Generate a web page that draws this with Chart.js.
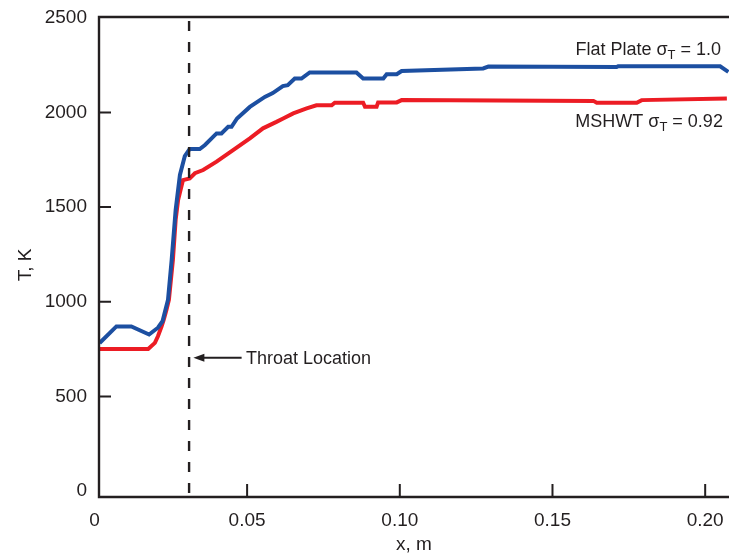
<!DOCTYPE html>
<html>
<head>
<meta charset="utf-8">
<script src="https://cdn.jsdelivr.net/npm/chart.js@4.4.1/dist/chart.umd.min.js"></script>
<style>
  html, body { margin: 0; padding: 0; background: #fff; }
  #wrap { width: 729px; height: 557px; }
</style>
</head>
<body>
<div id="wrap"><canvas id="grafico" width="729" height="557"></canvas></div>
<script>
// Datos (x en m, T en K)
const flatPlateX = [0.0017, 0.0072, 0.0121, 0.0179, 0.0208, 0.0223, 0.0241, 0.0253, 0.0266, 0.0280, 0.0296,
  0.0312, 0.0345, 0.0362, 0.0400, 0.0416, 0.0438, 0.0449, 0.0467, 0.0509, 0.0558, 0.0584, 0.0617, 0.0633,
  0.0656, 0.0678, 0.0705, 0.0858, 0.0880, 0.0946, 0.0957, 0.0990, 0.1006, 0.1273, 0.1290, 0.1710, 0.1715,
  0.2049, 0.2076];
const flatPlateT = [782, 870, 870, 827, 863, 897, 1011, 1222, 1485, 1670, 1770,
  1807, 1807, 1828, 1889, 1889, 1924, 1924, 1968, 2029, 2082, 2102, 2139, 2144,
  2179, 2179, 2211, 2211, 2179, 2179, 2202, 2202, 2219, 2232, 2242, 2240, 2244,
  2244, 2214];

const mshwtX = [0.0017, 0.0176, 0.0198, 0.0208, 0.0220, 0.0227, 0.0236, 0.0244, 0.0257, 0.0266, 0.0274,
  0.0290, 0.0312, 0.0329, 0.0356, 0.0400, 0.0454, 0.0509, 0.0552, 0.0596, 0.0618, 0.0651, 0.0695,
  0.0727, 0.0777, 0.0787, 0.0880, 0.0886, 0.0924, 0.0929, 0.0990, 0.1006, 0.1634, 0.1645, 0.1776,
  0.1792, 0.2071];
const mshwtT = [751, 751, 783, 818, 870, 906, 958, 1011, 1222, 1433, 1538,
  1643, 1652, 1679, 1696, 1740, 1801, 1863, 1916, 1950, 1968, 1995, 2021,
  2038, 2038, 2051, 2051, 2030, 2030, 2053, 2053, 2065, 2061, 2051, 2051,
  2065, 2074];

const xTicks = [0, 0.05, 0.10, 0.15, 0.20];
const xTickLabels = ['0', '0.05', '0.10', '0.15', '0.20'];
const yTicks = [0, 500, 1000, 1500, 2000, 2500];

const throatX = 0.031;

const FUENTE = '"Liberation Sans", Arial, Helvetica, sans-serif';
const TINTA = '#231f20';

function puntos(xs, ys) {
  return xs.map((x, i) => ({ x: x, y: ys[i] }));
}

// texto con subindice (sigma_T) alineado a la derecha
function textoSigma(ctx, antes, despues, xDer, yBase) {
  const grande = '18px ' + FUENTE;
  const chico = '13px ' + FUENTE;
  ctx.font = grande;
  const w1 = ctx.measureText(antes).width;
  const w3 = ctx.measureText(despues).width;
  ctx.font = chico;
  const w2 = ctx.measureText('T').width;
  let x = xDer - (w1 + w2 + w3);
  ctx.textAlign = 'left';
  ctx.textBaseline = 'alphabetic';
  ctx.font = grande;
  ctx.fillText(antes, x, yBase);
  x += w1;
  ctx.font = chico;
  ctx.fillText('T', x, yBase + 4);
  x += w2;
  ctx.font = grande;
  ctx.fillText(despues, x, yBase);
}

const anotaciones = {
  id: 'anotaciones',
  afterDatasetsDraw(chart) {
    const ctx = chart.ctx;
    const a = chart.chartArea;
    const sx = chart.scales.x;
    const sy = chart.scales.y;
    ctx.save();

    // marco
    ctx.strokeStyle = TINTA;
    ctx.lineWidth = 2.4;
    ctx.beginPath();
    ctx.moveTo(a.right + 2, a.top);
    ctx.lineTo(a.left, a.top);
    ctx.lineTo(a.left, a.bottom);
    ctx.lineTo(a.right + 2, a.bottom);
    ctx.stroke();

    // marcas hacia adentro
    ctx.lineWidth = 2;
    ctx.beginPath();
    xTicks.forEach(v => {
      if (v === 0) return;
      const px = sx.getPixelForValue(v);
      ctx.moveTo(px, a.bottom);
      ctx.lineTo(px, a.bottom - 13);
    });
    yTicks.forEach(v => {
      if (v === 0 || v === 2500) return;
      const py = sy.getPixelForValue(v);
      ctx.moveTo(a.left, py);
      ctx.lineTo(a.left + 12, py);
    });
    ctx.stroke();

    // linea de la garganta
    const gx = sx.getPixelForValue(throatX);
    ctx.setLineDash([10, 11]);
    ctx.lineWidth = 2.4;
    ctx.beginPath();
    ctx.moveTo(gx, a.top + 4);
    ctx.lineTo(gx, a.bottom);
    ctx.stroke();
    ctx.setLineDash([]);

    // flecha
    const fy = sy.getPixelForValue(705);
    const fx0 = sx.getPixelForValue(0.0482);
    const fx1 = sx.getPixelForValue(0.0324);
    ctx.lineWidth = 2;
    ctx.beginPath();
    ctx.moveTo(fx0, fy);
    ctx.lineTo(fx1 + 8, fy);
    ctx.stroke();
    ctx.fillStyle = TINTA;
    ctx.beginPath();
    ctx.moveTo(fx1, fy);
    ctx.lineTo(fx1 + 11, fy - 4);
    ctx.lineTo(fx1 + 11, fy + 4);
    ctx.closePath();
    ctx.fill();

    ctx.font = '18px ' + FUENTE;
    ctx.textAlign = 'left';
    ctx.textBaseline = 'middle';
    ctx.fillText('Throat Location', sx.getPixelForValue(0.0496), fy + 1);

    // etiquetas de las curvas
    textoSigma(ctx, 'Flat Plate \u03c3', ' = 1.0', sx.getPixelForValue(0.2052), sy.getPixelForValue(2302));
    textoSigma(ctx, 'MSHWT \u03c3', ' = 0.92', sx.getPixelForValue(0.2058), sy.getPixelForValue(1924));

    // titulos de ejes
    ctx.font = '19px ' + FUENTE;
    ctx.textAlign = 'center';
    ctx.textBaseline = 'middle';
    ctx.fillText('x, m', (a.left + a.right) / 2, 545);
    ctx.translate(26, 265);
    ctx.rotate(-Math.PI / 2);
    ctx.fillText('T, K', 0, 0);

    ctx.restore();
  }
};

new Chart(document.getElementById('grafico'), {
  type: 'line',
  data: {
    datasets: [
      {
        label: 'Flat Plate',
        data: puntos(flatPlateX, flatPlateT),
        borderColor: '#1c4fa1',
        borderWidth: 4,
        pointRadius: 0,
        tension: 0,
        fill: false
      },
      {
        label: 'MSHWT',
        data: puntos(mshwtX, mshwtT),
        borderColor: '#ec1c24',
        borderWidth: 4,
        pointRadius: 0,
        tension: 0,
        fill: false
      }
    ]
  },
  options: {
    responsive: false,
    animation: false,
    devicePixelRatio: 1,
    layout: { padding: { top: 17, right: 0, bottom: 0, left: 0 } },
    plugins: { legend: { display: false }, tooltip: { enabled: false } },
    scales: {
      x: {
        type: 'linear',
        min: 0.0015,
        max: 0.2078,
        grid: { display: false, drawTicks: false },
        border: { display: false },
        afterBuildTicks: s => { s.ticks = xTicks.map(v => ({ value: v })); },
        afterFit: s => { s.height = 60; s.paddingLeft = 0; s.paddingRight = 0; },
        ticks: {
          autoSkip: false,
          maxRotation: 0,
          padding: 12,
          color: TINTA,
          font: { family: FUENTE, size: 19 },
          callback: (v) => xTickLabels[xTicks.indexOf(v)]
        }
      },
      y: {
        type: 'linear',
        min: -31,
        max: 2504,
        grid: { display: false, drawTicks: false },
        border: { display: false },
        afterBuildTicks: s => { s.ticks = yTicks.map(v => ({ value: v })); },
        afterFit: s => { s.width = 99; s.paddingTop = 0; s.paddingBottom = 0; },
        ticks: {
          autoSkip: false,
          padding: 12,
          color: TINTA,
          font: { family: FUENTE, size: 19 },
          callback: (v) => String(v)
        }
      }
    }
  },
  plugins: [anotaciones]
});
</script>
</body>
</html>
